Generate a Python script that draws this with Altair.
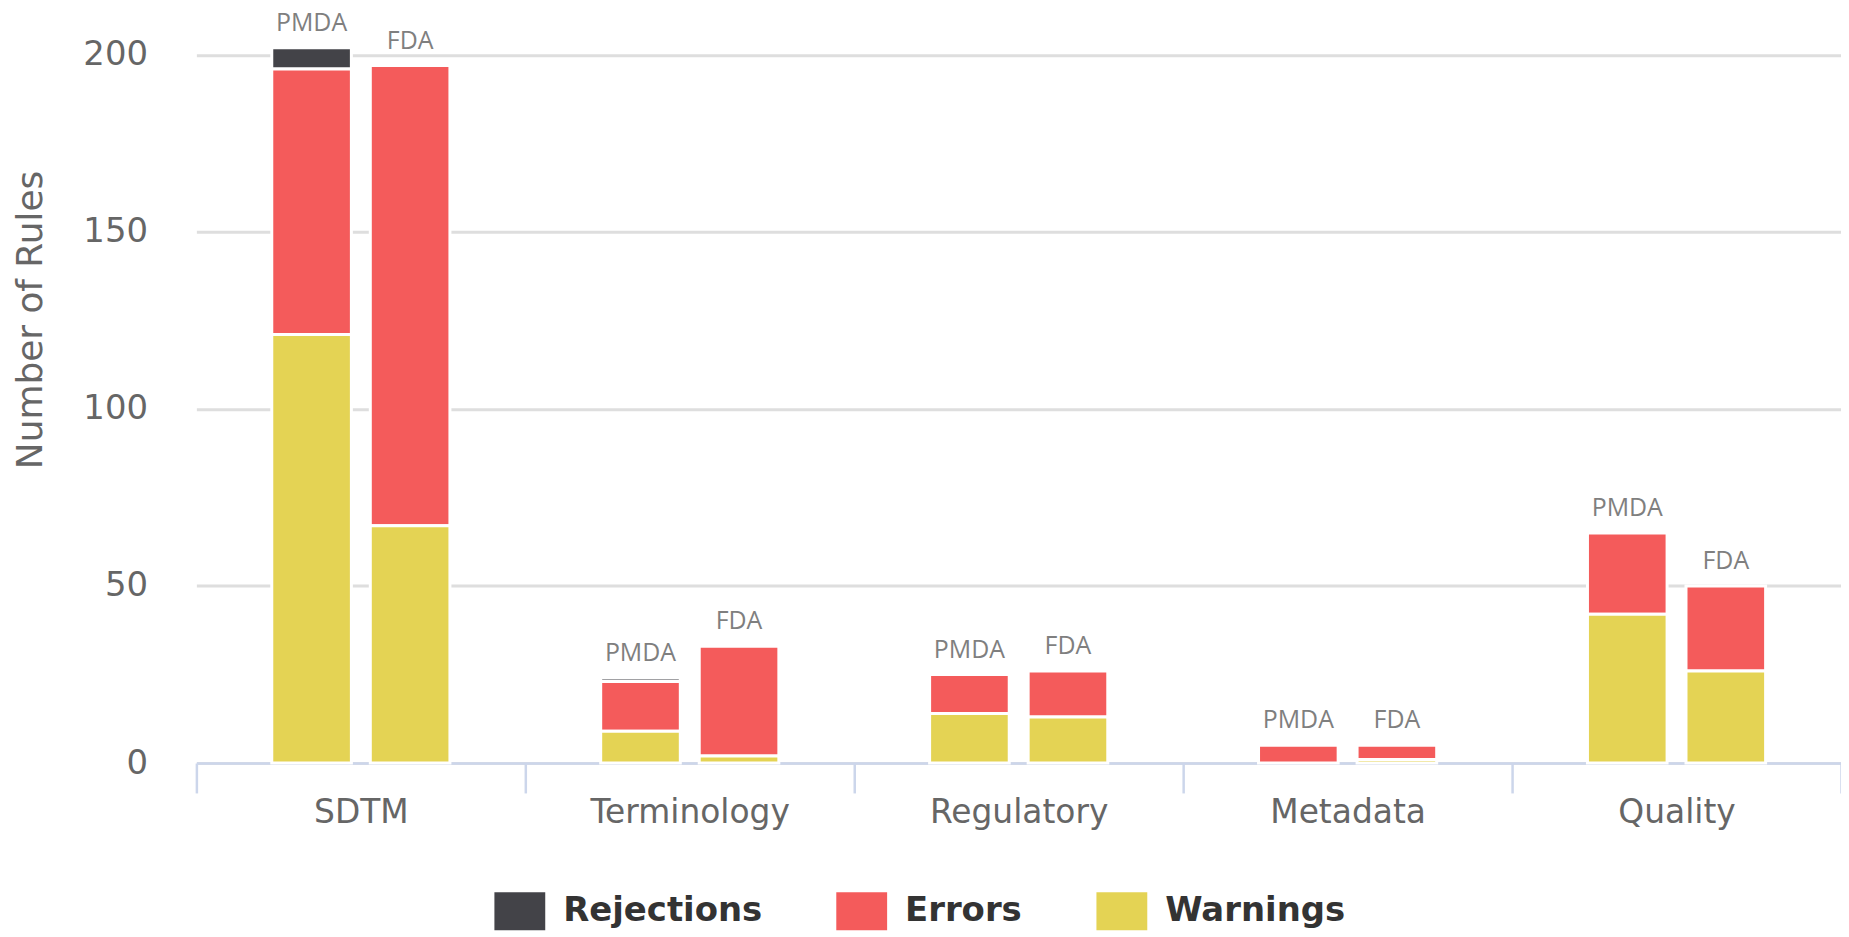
import altair as alt
import pandas as pd

categories = ["SDTM", "Terminology", "Regulatory", "Metadata", "Quality"]
agencies = ["PMDA", "FDA"]
series = ["Rejections", "Errors", "Warnings"]
colors = ["#434348", "#f45b5b", "#e4d354"]

pmda_rejections = [6, 1, 0, 0, 0]
pmda_errors = [75, 14, 11, 5, 23]
pmda_warnings = [121, 9, 14, 0, 42]
fda_rejections = [0, 0, 0, 0, 0]
fda_errors = [130, 31, 13, 4, 24]
fda_warnings = [67, 2, 13, 1, 26]

y_ticks = [0, 50, 100, 150, 200]

data = {
    "PMDA": {"Rejections": pmda_rejections, "Errors": pmda_errors, "Warnings": pmda_warnings},
    "FDA": {"Rejections": fda_rejections, "Errors": fda_errors, "Warnings": fda_warnings},
}
stack_rank = {"Warnings": 0, "Errors": 1, "Rejections": 2}

rows = []
for ag in agencies:
    for s in series:
        for c, v in zip(categories, data[ag][s]):
            if v > 0:
                rows.append({"category": c, "agency": ag, "series": s,
                             "value": v, "stack_order": stack_rank[s]})
df = pd.DataFrame(rows)

x_axis = alt.Axis(title=None, tickBand="extent", labelAngle=0, labelLimit=0,
                  labelFont="DejaVu Sans", labelFontSize=33, labelColor="#666666",
                  labelPadding=4, tickSize=30, tickColor="#ccd6eb", tickWidth=2.5,
                  domainColor="#ccd6eb", domainWidth=2.5, grid=False)
y_axis = alt.Axis(values=y_ticks, title="Number of Rules",
                  titleFont="DejaVu Sans", titleFontSize=36, titleColor="#666666",
                  titleFontWeight="normal", titleX=-166, titleY=301, titleAngle=270,
                  titleAlign="center", titleBaseline="middle",
                  labelFont="DejaVu Sans", labelFontSize=34, labelColor="#666666",
                  labelPadding=49, ticks=False, tickSize=0, domain=False,
                  grid=True, gridColor="#dedede", gridWidth=3)
x_scale = alt.Scale(paddingInner=0, paddingOuter=0)
xo_scale = alt.Scale(paddingInner=0.192, paddingOuter=0.765)
y_scale = alt.Scale(domain=[0, 210], nice=False)

base = alt.Chart(df)

bars = base.mark_bar(stroke="white", strokeWidth=3).encode(
    x=alt.X("category:N", sort=categories, scale=x_scale, axis=x_axis),
    xOffset=alt.XOffset("agency:N", sort=agencies, scale=xo_scale),
    y=alt.Y("value:Q", stack="zero", scale=y_scale, axis=y_axis),
    color=alt.Color("series:N", scale=alt.Scale(domain=series, range=colors),
                    legend=alt.Legend(title=None, orient="none", legendX=299, legendY=869,
                                      direction="horizontal", columns=3,
                                      symbolType="M-1,-0.745H1V0.745H-1Z", symbolSize=2601,
                                      symbolStrokeWidth=0, symbolOpacity=1,
                                      labelFont="DejaVu Sans", labelFontSize=34,
                                      labelFontWeight="bold", labelColor="#333333",
                                      labelLimit=0, labelOffset=18, columnPadding=74,
                                      padding=0)),
    order=alt.Order("stack_order:Q", sort="ascending"),
)

labels = base.mark_text(font="Open Sans", fontSize=25, color="#7f7f7f",
                        baseline="alphabetic", align="center", dy=-17).encode(
    x=alt.X("category:N", sort=categories, scale=x_scale, axis=x_axis),
    xOffset=alt.XOffset("agency:N", sort=agencies, scale=xo_scale),
    y=alt.Y("sum(value):Q", scale=y_scale, axis=y_axis),
    text=alt.Text("agency:N"),
)

chart = alt.layer(bars, labels).properties(
    width=1650, height=746,
    padding={"left": 189, "top": 10, "right": 0, "bottom": 167},
    autosize=alt.AutoSizeParams(type="none"),
).configure_view(strokeWidth=0)

chart.save("out.html", embed_options={"renderer": "svg", "actions": False})
